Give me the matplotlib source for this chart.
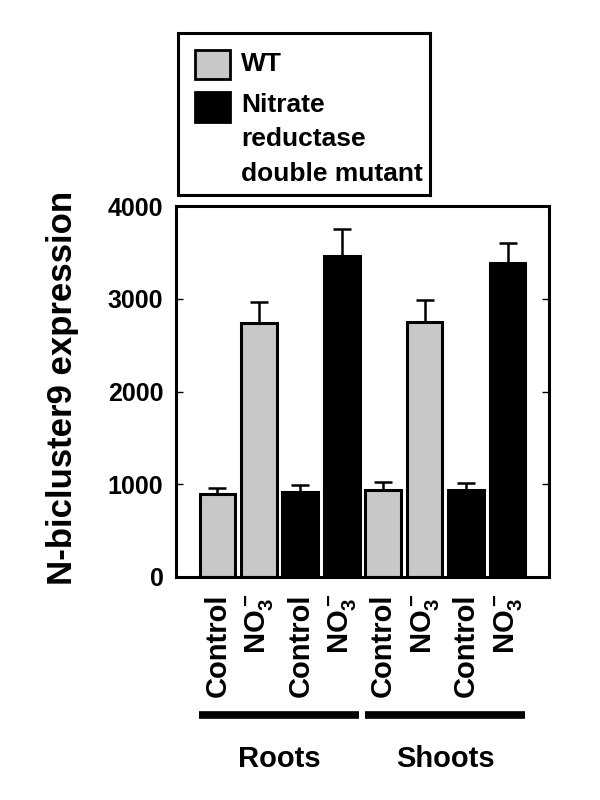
import numpy as np
import matplotlib
matplotlib.use("Agg")
import matplotlib.pyplot as plt
from matplotlib.patches import Rectangle
import matplotlib.transforms as mtransforms

plt.rcParams['font.family'] = ['Liberation Sans', 'DejaVu Sans']
plt.rcParams['font.weight'] = 'bold'
plt.rcParams['mathtext.fontset'] = 'custom'
plt.rcParams['mathtext.rm'] = 'Liberation Sans:bold'
plt.rcParams['mathtext.bf'] = 'Liberation Sans:bold'
plt.rcParams['mathtext.it'] = 'Liberation Sans:bold'

# data
tick_labels = ["Control", r"$\mathbf{NO_3^-}$", "Control", r"$\mathbf{NO_3^-}$",
               "Control", r"$\mathbf{NO_3^-}$", "Control", r"$\mathbf{NO_3^-}$"]
genotype = ["WT", "WT", "NR", "NR", "WT", "WT", "NR", "NR"]
values = [897, 2735, 919, 3459, 941, 2746, 941, 3389]
errors = [65, 227, 76, 292, 86, 238, 75, 209]
groups = ["Roots", "Shoots"]
group_members = [[0, 1, 2, 3], [4, 5, 6, 7]]
colors = {"WT": "#c8c8c8", "NR": "black"}
legend_labels = ["WT", "Nitrate\nreductase\ndouble mutant"]

fig = plt.figure(figsize=(6, 8), dpi=100)
ax = fig.add_axes([0.2933, 0.27875, 0.6217, 0.46375])

x = np.arange(len(values))
ax.bar(x, values, width=0.86, color=[colors[g] for g in genotype],
       edgecolor="black", linewidth=2.2, zorder=2)
ax.errorbar(x, values, yerr=[np.zeros(len(errors)), errors], fmt="none",
            ecolor="black", elinewidth=1.8, capsize=6.5, capthick=1.8, zorder=1)

ax.set_xlim(-1, 8)
ax.set_ylim(0, 4000)
ax.set_yticks([0, 1000, 2000, 3000, 4000])
ax.tick_params(axis="y", direction="in", length=5, width=1, right=True,
               labelsize=18, pad=9)
ax.set_xticks(x)
ax.set_xticklabels(tick_labels, rotation=90, fontsize=21, fontweight="bold")
ax.tick_params(axis="x", length=0, pad=12)
for lab in ax.get_yticklabels():
    lab.set_fontweight("bold")
for sp in ax.spines.values():
    sp.set_linewidth(2.2)

ax.set_ylabel("N-bicluster9 expression", fontsize=25, fontweight="bold")
ax.yaxis.set_label_coords(-0.26, 0.51)

# group bars under the tick labels
trans = mtransforms.blended_transform_factory(ax.transData, ax.transAxes)
for name, members in zip(groups, group_members):
    x0 = members[0] - 0.44
    x1 = members[-1] + 0.42
    ax.plot([x0, x1], [-0.372, -0.372], color="black", lw=5.5,
            solid_capstyle="butt", transform=trans, clip_on=False)
    ax.text(np.mean(members), -0.49, name, transform=trans, ha="center",
            va="center", fontsize=21, fontweight="bold")

# legend box
lax = fig.add_axes([0.2967, 0.75625, 0.42, 0.2025])
lax.set_xticks([])
lax.set_yticks([])
for sp in lax.spines.values():
    sp.set_linewidth(2.2)
lax.add_patch(Rectangle((0.067, 0.716), 0.139, 0.179, facecolor=colors["WT"],
                        edgecolor="black", lw=2, transform=lax.transAxes))
lax.add_patch(Rectangle((0.067, 0.45), 0.139, 0.185, facecolor=colors["NR"],
                        edgecolor="black", lw=2, transform=lax.transAxes))
lax.text(0.25, 0.81, legend_labels[0], transform=lax.transAxes, va="center",
         ha="left", fontsize=19, fontweight="bold")
lax.text(0.25, 0.63, legend_labels[1], transform=lax.transAxes, va="top",
         ha="left", fontsize=19, fontweight="bold", linespacing=1.55)

fig.savefig("out.png", dpi=100)
